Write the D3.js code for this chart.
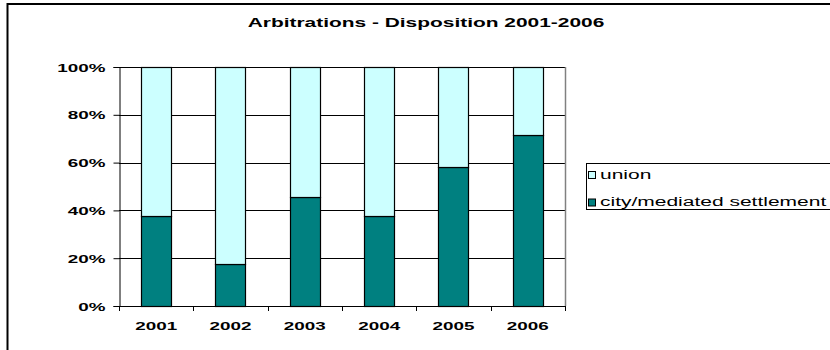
<!DOCTYPE html>
<html>
<head>
<meta charset="utf-8">
<script src="https://cdn.jsdelivr.net/npm/d3@7"></script>
<style>
  body { margin: 0; background: #fff; }
  text { font-family: "Liberation Sans", Arial, sans-serif; fill: #000; }
</style>
</head>
<body>
<div id="chart"></div>
<script>
// data (percent)
const years = ["2001", "2002", "2003", "2004", "2005", "2006"];
const cityValues = [37.5, 17.6, 45.5, 37.5, 58.3, 71.4];
const unionValues = [62.5, 82.4, 54.5, 62.5, 41.7, 28.6];
const seriesNames = ["city/mediated settlement", "union"];
const yTicks = [0, 20, 40, 60, 80, 100];

const colors = { "city/mediated settlement": "#008080", "union": "#CCFFFF" };

// the original picture is stretched horizontally, text included
const SX = 1.64;

const W = 830, H = 350;
const plot = { left: 119, right: 565, top: 67, bottom: 306 };

const svg = d3.select("#chart")
    .append("svg")
    .attr("width", W)
    .attr("height", H);

// outer chart border (cut off on right and bottom)
svg.append("rect")
    .attr("x", 7.5)
    .attr("y", 4)
    .attr("width", 900)
    .attr("height", 400)
    .attr("fill", "none")
    .attr("stroke", "#000")
    .attr("stroke-width", 2);

function stretchedText(sel, x, y, txt, size, weight, anchor, sx) {
    return sel.append("text")
        .attr("transform", `translate(${x},${y}) scale(${sx},1)`)
        .attr("text-anchor", anchor)
        .style("font-size", size + "px")
        .style("font-weight", weight)
        .text(txt);
}

// title
stretchedText(svg, 426, 27, "Arbitrations - Disposition 2001-2006", 13.5, "bold", "middle", 1.55);

const rows = years.map((y, i) => ({
    year: y,
    "city/mediated settlement": cityValues[i],
    "union": unionValues[i]
}));

const stacked = d3.stack().keys(seriesNames)(rows);

const x = d3.scaleBand()
    .domain(years)
    .range([plot.left, plot.right])
    .paddingInner(0.59)
    .paddingOuter(0.295);

const cells = d3.scaleBand()
    .domain(years)
    .range([plot.left, plot.right]);

const y = d3.scaleLinear()
    .domain([0, 100])
    .range([plot.bottom, plot.top]);

// gridlines
svg.append("g")
    .selectAll("line")
    .data(yTicks.filter(d => d > 0))
    .enter()
    .append("line")
    .attr("x1", plot.left)
    .attr("x2", plot.right)
    .attr("y1", d => Math.round(y(d)) + 0.5)
    .attr("y2", d => Math.round(y(d)) + 0.5)
    .attr("stroke", "#000")
    .attr("stroke-width", 1);

// right plot border
svg.append("line")
    .attr("x1", plot.right + 0.5)
    .attr("x2", plot.right + 0.5)
    .attr("y1", plot.top)
    .attr("y2", plot.bottom)
    .attr("stroke", "#808080")
    .attr("stroke-width", 1.5);

// bars
svg.append("g")
    .selectAll("g")
    .data(stacked)
    .enter()
    .append("g")
    .attr("fill", d => colors[d.key])
    .selectAll("rect")
    .data(d => d)
    .enter()
    .append("rect")
    .attr("x", d => Math.round(x(d.data.year)) + 0.5)
    .attr("y", d => Math.round(y(d[1])) + 0.5)
    .attr("width", Math.round(x.bandwidth()))
    .attr("height", d => Math.round(y(d[0])) - Math.round(y(d[1])))
    .attr("stroke", "#000")
    .attr("stroke-width", 1.2);

// y axis
const yAxis = svg.append("g")
    .attr("transform", `translate(${plot.left + 0.5},0)`)
    .call(d3.axisLeft(y).tickValues(yTicks).tickSize(6).tickFormat(""));
yAxis.select(".domain").attr("stroke", "#000");
yAxis.selectAll(".tick line").attr("stroke", "#000");

yAxis.selectAll(".tick")
    .each(function (d) {
        stretchedText(d3.select(this), -14, 4, d + "%", 11.5, "bold", "end", SX);
    });

// x axis: ticks at category boundaries
svg.append("line")
    .attr("x1", plot.left)
    .attr("x2", plot.right + 1)
    .attr("y1", plot.bottom + 0.5)
    .attr("y2", plot.bottom + 0.5)
    .attr("stroke", "#000");

svg.append("g")
    .selectAll("line")
    .data(years.concat(["end"]))
    .enter()
    .append("line")
    .attr("x1", (d, i) => Math.round(i < years.length ? cells(d) : plot.right) + 0.5)
    .attr("x2", (d, i) => Math.round(i < years.length ? cells(d) : plot.right) + 0.5)
    .attr("y1", plot.bottom)
    .attr("y2", plot.bottom + 5)
    .attr("stroke", "#000");

const xLabels = svg.append("g");
years.forEach(function (yr) {
    stretchedText(xLabels, cells(yr) + cells.bandwidth() / 2, 330, yr, 11.5, "bold", "middle", SX);
});

// legend
const legend = svg.append("g");
legend.append("rect")
    .attr("x", 586.5)
    .attr("y", 163.5)
    .attr("width", 300)
    .attr("height", 46)
    .attr("fill", "#fff")
    .attr("stroke", "#000")
    .attr("stroke-width", 1);

const legendItems = legend.selectAll("g.item")
    .data(seriesNames.slice().reverse())
    .enter()
    .append("g")
    .attr("class", "item")
    .attr("transform", (d, i) => `translate(588.5, ${171.5 + i * 27.5})`);

legendItems.append("rect")
    .attr("width", 7)
    .attr("height", 7)
    .attr("fill", d => colors[d])
    .attr("stroke", "#000")
    .attr("stroke-width", 1);

legendItems.each(function (d) {
    stretchedText(d3.select(this), 11.5, 7, d, 12.5, "normal", "start", 1.68);
});
</script>
</body>
</html>
